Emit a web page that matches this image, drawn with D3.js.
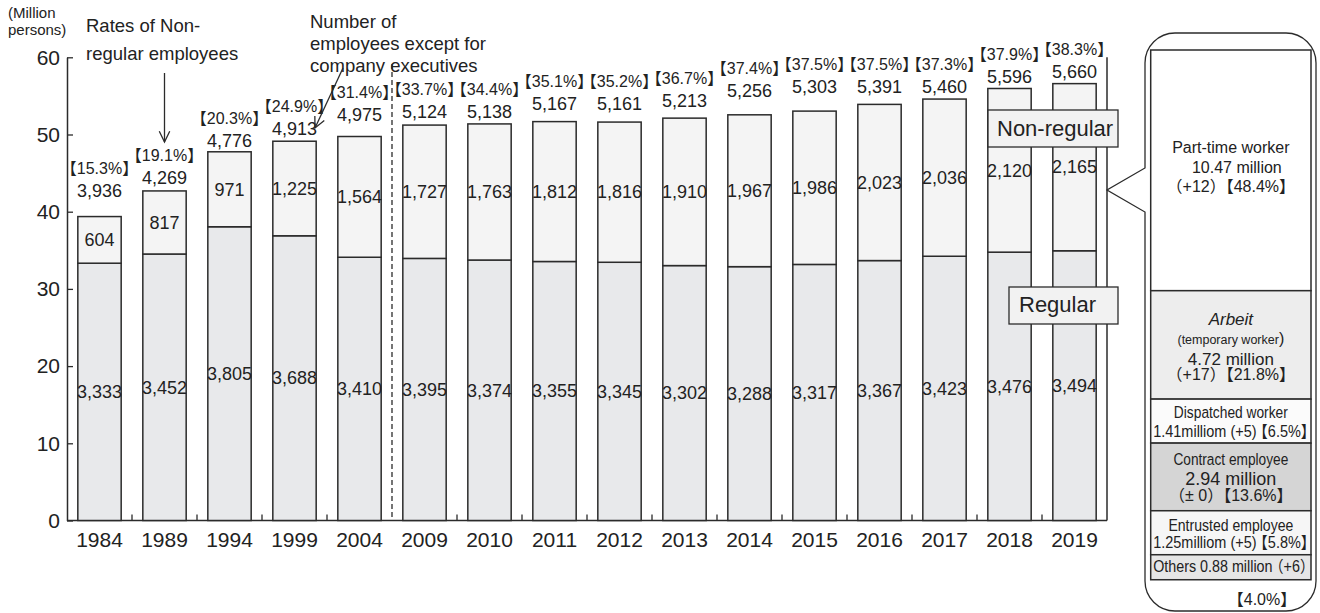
<!DOCTYPE html>
<html>
<head>
<meta charset="utf-8">
<script src="https://cdn.jsdelivr.net/npm/d3@7/dist/d3.min.js"></script>
<style>
  html, body { margin: 0; padding: 0; background: #fff; }
  svg { display: block; }
  text { font-family: "Liberation Sans", Arial, "Noto Sans CJK JP", sans-serif; fill: #222; }
  text.pv, text.tight { font-feature-settings: "halt" 1; }
</style>
</head>
<body>
<svg id="chart" width="1320" height="613"></svg>
<script>
// Employees by type of employment (unit: 10 thousand persons)
const years = ["1984", "1989", "1994", "1999", "2004", "2009", "2010", "2011", "2012", "2013", "2014", "2015", "2016", "2017", "2018", "2019"];
const regular = [3333, 3452, 3805, 3688, 3410, 3395, 3374, 3355, 3345, 3302, 3288, 3317, 3367, 3423, 3476, 3494];
const nonRegular = [604, 817, 971, 1225, 1564, 1727, 1763, 1812, 1816, 1910, 1967, 1986, 2023, 2036, 2120, 2165];
const totals = [3936, 4269, 4776, 4913, 4975, 5124, 5138, 5167, 5161, 5213, 5256, 5303, 5391, 5460, 5596, 5660];
const nonRegularRate = [15.3, 19.1, 20.3, 24.9, 31.4, 33.7, 34.4, 35.1, 35.2, 36.7, 37.4, 37.5, 37.5, 37.3, 37.9, 38.3];
const yTicks = [0, 10, 20, 30, 40, 50, 60];

// Breakdown of non-regular employees, 2019
const typeNames = ["Part-time worker", "Arbeit", "Dispatched worker", "Contract employee", "Entrusted employee", "Others"];
const typeMillions = ["10.47", "4.72", "1.41", "2.94", "1.25", "0.88"];
const typeChange = ["+12", "+17", "+5", "± 0", "+5", "+6"];
const typeShare = [48.4, 21.8, 6.5, 13.6, 5.8, 4.0];

// Hand-placed lift (px) of the total labels above each bar
const totalLabelGap = [20, 7, 5, 6, 15, 7, 6, 12, 12, 11, 18, 18, 11, 6, 5, 6];

const svg = d3.select("#chart");
const ink = "#2b2b2b";
const plot = { left: 67, right: 1107, top: 57.3, bottom: 520.5 };

const x = d3.scaleBand().domain(years).range([plot.left, plot.right])
  .paddingInner(0.333).paddingOuter(0.1665);
const y = d3.scaleLinear().domain([0, 60]).range([plot.bottom, plot.top]);
const toMillion = v => v / 100;
const fmt = d3.format(",");

// Y axis (ticks point into the plot)
const yAxis = d3.axisLeft(y).tickValues(yTicks).tickSizeInner(-6).tickSizeOuter(0).tickPadding(7);
const gy = svg.append("g").attr("transform", `translate(${plot.left},0)`).call(yAxis);
gy.select(".domain").attr("stroke", ink).attr("stroke-width", 1.5);
gy.selectAll(".tick line").attr("stroke", ink).attr("stroke-width", 1.3);
gy.selectAll(".tick text").attr("font-size", 21).attr("fill", "#222")
  .attr("font-family", '"Liberation Sans", Arial, sans-serif');

// X axis line, category labels and separators between categories
svg.append("line").attr("x1", plot.left).attr("x2", plot.right)
  .attr("y1", y(0)).attr("y2", y(0)).attr("stroke", ink).attr("stroke-width", 1.5);
svg.append("line").attr("x1", plot.right).attr("x2", plot.right)
  .attr("y1", y(60)).attr("y2", y(0)).attr("stroke", ink).attr("stroke-width", 1.5);

const half = (x.step() - x.bandwidth()) / 2;
years.slice(1).forEach(yr => {
  if (yr === "2009") return;
  const bx = x(yr) - half;
  svg.append("line").attr("x1", bx).attr("x2", bx).attr("y1", y(0)).attr("y2", y(0) - 6)
    .attr("stroke", ink).attr("stroke-width", 1.3);
});
svg.append("g").selectAll("text").data(years).join("text")
  .attr("x", d => x(d) + x.bandwidth() / 2).attr("y", y(0) + 26.5)
  .attr("text-anchor", "middle").attr("font-size", 21).text(d => d);

// Dashed separator between the five-year and annual series
const sepX = x("2009") - half;
svg.append("line").attr("x1", sepX).attr("x2", sepX).attr("y1", 64).attr("y2", y(0))
  .attr("stroke", ink).attr("stroke-width", 1.3).attr("stroke-dasharray", "5,3");

// Stacked bars
const rows = years.map((yr, i) => ({ yr, i, reg: regular[i], non: nonRegular[i], tot: totals[i], rate: nonRegularRate[i] }));
const bars = svg.append("g");
bars.selectAll("rect.reg").data(rows).join("rect").attr("class", "reg")
  .attr("x", d => x(d.yr)).attr("width", x.bandwidth())
  .attr("y", d => y(toMillion(d.reg))).attr("height", d => y(0) - y(toMillion(d.reg)))
  .attr("fill", "#e8e9eb").attr("stroke", ink).attr("stroke-width", 1.5);
bars.selectAll("rect.non").data(rows).join("rect").attr("class", "non")
  .attr("x", d => x(d.yr)).attr("width", x.bandwidth())
  .attr("y", d => y(toMillion(d.reg + d.non))).attr("height", d => y(toMillion(d.reg)) - y(toMillion(d.reg + d.non)))
  .attr("fill", "#f4f4f4").attr("stroke", ink).attr("stroke-width", 1.5);

// Values inside the segments
const labels = svg.append("g").attr("text-anchor", "middle");
labels.selectAll("text.rv").data(rows).join("text").attr("class", "rv")
  .attr("x", d => x(d.yr) + x.bandwidth() / 2)
  .attr("y", d => (y(0) + y(toMillion(d.reg))) / 2).attr("dy", "0.35em")
  .attr("font-size", 18).text(d => fmt(d.reg));
labels.selectAll("text.nv").data(rows).join("text").attr("class", "nv")
  .attr("x", d => x(d.yr) + x.bandwidth() / 2)
  .attr("y", d => (y(toMillion(d.reg)) + y(toMillion(d.reg + d.non))) / 2).attr("dy", "0.35em")
  .attr("font-size", 18).text(d => fmt(d.non));

// Totals and non-regular rates above the bars
labels.selectAll("text.tv").data(rows).join("text").attr("class", "tv")
  .attr("x", d => x(d.yr) + x.bandwidth() / 2)
  .attr("y", d => y(toMillion(d.tot)) - totalLabelGap[d.i])
  .attr("font-size", 18).text(d => fmt(d.tot));
labels.selectAll("text.pv").data(rows).join("text").attr("class", "pv")
  .attr("x", d => x(d.yr) + x.bandwidth() / 2)
  .attr("y", d => y(toMillion(d.tot)) - totalLabelGap[d.i] - 23)
  .attr("font-size", 16).text(d => `【${d.rate.toFixed(1)}%】`);

// Unit caption
const unit = svg.append("text").attr("font-size", 15);
unit.append("tspan").attr("x", 8).attr("y", 17.5).text("(Million");
unit.append("tspan").attr("x", 8).attr("y", 35).text("persons)");

// Annotations with arrows
const note1 = svg.append("text").attr("font-size", 18.5);
note1.append("tspan").attr("x", 86).attr("y", 32).text("Rates of Non-");
note1.append("tspan").attr("x", 86).attr("y", 60).text("regular employees");

const note2 = svg.append("text").attr("font-size", 18.5);
note2.append("tspan").attr("x", 310).attr("y", 28).text("Number of");
note2.append("tspan").attr("x", 310).attr("y", 50).text("employees except for");
note2.append("tspan").attr("x", 310).attr("y", 72).text("company executives");

function arrow(x1, y1, x2, y2) {
  const a = Math.atan2(y1 - y2, x1 - x2), len = 12, spread = 0.45;
  svg.append("line").attr("x1", x1).attr("y1", y1).attr("x2", x2).attr("y2", y2)
    .attr("stroke", ink).attr("stroke-width", 1.3);
  svg.append("path")
    .attr("d", `M${x2 + len * Math.cos(a - spread)},${y2 + len * Math.sin(a - spread)}L${x2},${y2}L${x2 + len * Math.cos(a + spread)},${y2 + len * Math.sin(a + spread)}`)
    .attr("fill", "none").attr("stroke", ink).attr("stroke-width", 1.3);
}
arrow(164.5, 73, 164.5, 142);
arrow(343, 68, 315, 128);

// Series tags
function tag(text, bx, by, bw, bh, tx, ty) {
  svg.append("rect").attr("x", bx).attr("y", by).attr("width", bw).attr("height", bh)
    .attr("fill", "#f2f2f2").attr("stroke", ink).attr("stroke-width", 1.3);
  svg.append("text").attr("x", tx).attr("y", ty).attr("font-size", 22).text(text);
}
tag("Non-regular", 988, 110, 130, 37, 997, 136);
tag("Regular", 1009, 287, 109, 37, 1019, 312);

// Callout with the 2019 breakdown of non-regular employees
const co = { l: 1145, r: 1316, t: 33, b: 611, rad: 30, tipX: 1107, tipY: 190, py1: 168, py2: 212 };
svg.append("path")
  .attr("d", `M${co.l + co.rad},${co.t}H${co.r - co.rad}A${co.rad},${co.rad} 0 0 1 ${co.r},${co.t + co.rad}` +
    `V${co.b - co.rad}A${co.rad},${co.rad} 0 0 1 ${co.r - co.rad},${co.b}H${co.l + co.rad}` +
    `A${co.rad},${co.rad} 0 0 1 ${co.l},${co.b - co.rad}V${co.py2}L${co.tipX},${co.tipY}L${co.l},${co.py1}` +
    `V${co.t + co.rad}A${co.rad},${co.rad} 0 0 1 ${co.l + co.rad},${co.t}Z`)
  .attr("fill", "#fff").attr("stroke", ink).attr("stroke-width", 1.3);

const stackL = 1150.7, stackR = 1311, stackTop = 50;
const shareScale = d3.scaleLinear().domain([0, 100]).range([0, 497.3]);
const lineCount = [3, 4, 2, 3, 2, 1];
const minHeight = n => 19 * n + 6;
const segFill = ["#ffffff", "#ededed", "#fbfbfb", "#d5d5d5", "#f6f6f6", "#e6e6e6"];
let acc = stackTop;
const segs = typeShare.map((s, i) => {
  const h = Math.max(shareScale(s), minHeight(lineCount[i]));
  const seg = { i, top: acc, h };
  acc += h;
  return seg;
});
svg.append("g").selectAll("rect").data(segs).join("rect")
  .attr("x", stackL).attr("width", stackR - stackL)
  .attr("y", d => d.top).attr("height", d => d.h)
  .attr("fill", d => segFill[d.i]).attr("stroke", ink).attr("stroke-width", 1.5);

// Text lines per segment; "w" squeezes a line horizontally to that width
const cx = (stackL + stackR) / 2;
const segText = [
  [
    { t: typeNames[0], dy: 103, fs: 16 },
    { t: `${typeMillions[0]} million`, dy: 123, fs: 16, dx: 6 },
    { t: `（${typeChange[0]}）【${typeShare[0].toFixed(1)}%】`, dy: 142, fs: 16 }
  ],
  [
    { t: typeNames[1], dy: 34, fs: 17, italic: true },
    { t: "(temporary worker", tail: ")", dy: 53, fs: 12.5 },
    { t: `${typeMillions[1]} million`, dy: 74, fs: 17 },
    { t: `（${typeChange[1]}）【${typeShare[1].toFixed(1)}%】`, dy: 89.5, fs: 16 }
  ],
  [
    { t: typeNames[2], dy: 19, fs: 16.5, w: 114 },
    { t: `${typeMillions[2]}milliom (+5) 【${typeShare[2].toFixed(1)}%】`, dy: 37.5, fs: 16, w: 155, start: true, tight: true }
  ],
  [
    { t: typeNames[3], dy: 22, fs: 16.5, w: 115 },
    { t: `${typeMillions[3]} million`, dy: 42, fs: 18 },
    { t: `（${typeChange[3]}）【${typeShare[3].toFixed(1)}%】`, dy: 58, fs: 16 }
  ],
  [
    { t: typeNames[4], dy: 20.5, fs: 16.5, w: 125 },
    { t: `${typeMillions[4]}milliom  (+5) 【${typeShare[4].toFixed(1)}%】`, dy: 37.5, fs: 16, w: 155, start: true, tight: true }
  ],
  [
    { t: `Others ${typeMillions[5]} million  （${typeChange[5]}）`, dy: 17, fs: 16, w: 154, start: true, tight: true }
  ]
];
segs.forEach(seg => {
  segText[seg.i].forEach(ln => {
    const px = ln.start ? stackL + 2.5 : cx + (ln.dx || 0);
    const py = seg.top + ln.dy;
    const tx = svg.append("text")
      .attr("class", ln.tight ? "tight" : null)
      .attr("text-anchor", ln.start ? "start" : "middle")
      .attr("font-size", ln.fs)
      .attr("font-style", ln.italic ? "italic" : null);
    tx.append("tspan").text(ln.t);
    if (ln.tail) tx.append("tspan").attr("font-size", 16).text(ln.tail);
    if (ln.w) {
      const natural = tx.node().getComputedTextLength();
      const s = Math.min(1, ln.w / natural);
      tx.attr("transform", `translate(${px},${py}) scale(${s},1)`);
    } else {
      tx.attr("x", px).attr("y", py);
    }
  });
});
svg.append("text").attr("x", 1262).attr("y", acc + 25).attr("text-anchor", "middle")
  .attr("font-size", 16).text(`【${typeShare[5].toFixed(1)}%】`);
</script>
</body>
</html>
